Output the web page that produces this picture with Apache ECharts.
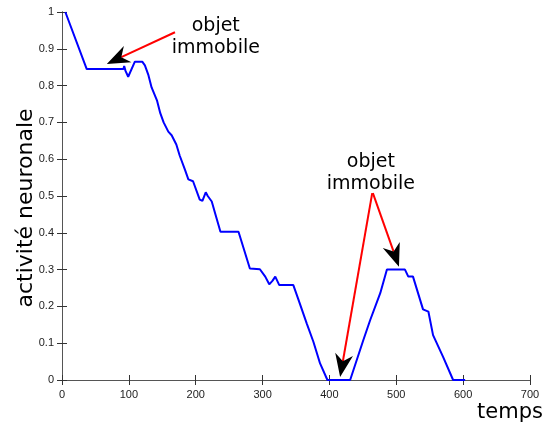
<!DOCTYPE html>
<html>
<head>
<meta charset="utf-8">
<script src="https://cdn.jsdelivr.net/npm/echarts@6/dist/echarts.min.js"></script>
<style>
  html, body { margin: 0; padding: 0; background: #fff; }
  #chart { width: 545px; height: 425px; }
</style>
</head>
<body>
<div id="chart"></div>
<script>
// valeurs
const temps = [5, 37, 92, 93, 95, 99, 109, 120, 124, 129, 134, 142, 147, 152, 159, 164, 171, 176,
  184, 189, 196, 206, 210, 215, 218, 224, 229, 237, 264, 281, 296, 304, 310, 315, 319, 325, 346,
  353, 355, 366, 376, 386, 397, 431, 451, 461, 476, 486, 513, 518, 525, 540, 548, 555, 570,
  585, 603];
const activite = [1, 0.845, 0.845, 0.853, 0.84, 0.824, 0.865, 0.865, 0.855, 0.83, 0.795, 0.76,
  0.725, 0.7, 0.675, 0.665, 0.64, 0.61, 0.571, 0.545, 0.54, 0.49, 0.487, 0.51, 0.5, 0.485, 0.453,
  0.403, 0.403, 0.303, 0.301, 0.281, 0.26, 0.27, 0.281, 0.258, 0.258, 0.222, 0.217, 0.154, 0.104,
  0.045, 0, 0, 0.11, 0.163, 0.236, 0.3, 0.3, 0.281, 0.281, 0.192, 0.186, 0.122, 0.063,
  0, 0];

const xTicks = [0, 100, 200, 300, 400, 500, 600, 700];
const yTicks = [0, 0.1, 0.2, 0.3, 0.4, 0.5, 0.6, 0.7, 0.8, 0.9, 1];

// annotations (coordonnées dans l'espace des données)
const flecheDebut = [[169, 0.945], [464, 0.508], [465, 0.508]];
const flecheFin = [[67, 0.859], [416, 0.008], [504, 0.308]];
const etiquettes = [[230, 0.932], [462, 0.563]];
const etiquetteTexte = 'objet\nimmobile';

const chart = echarts.init(document.getElementById('chart'));

const axisLine = { show: true, lineStyle: { color: '#555', width: 1 } };
const axisTick = { show: true, inside: true, length: 5, lineStyle: { color: '#333' } };
const tickFont = { color: '#222', fontSize: 11, fontFamily: 'Liberation Sans' };

chart.setOption({
  animation: false,
  grid: { left: 62, right: 15, top: 12, bottom: 45 },
  xAxis: [
    {
      type: 'value', min: xTicks[0], max: xTicks[xTicks.length - 1], interval: 100,
      axisLine, axisTick, splitLine: { show: false },
      axisLabel: Object.assign({ margin: 9 }, tickFont)
    },
    {
      type: 'value', position: 'top', min: xTicks[0], max: xTicks[xTicks.length - 1], interval: 100,
      axisLine, axisTick, splitLine: { show: false }, axisLabel: { show: false }
    }
  ],
  yAxis: [
    {
      type: 'value', min: yTicks[0], max: yTicks[yTicks.length - 1], interval: 0.1,
      axisLine, axisTick, splitLine: { show: false },
      axisLabel: Object.assign({ margin: 8 }, tickFont)
    },
    {
      type: 'value', position: 'right', min: 0, max: 1, interval: 0.1,
      axisLine, axisTick, splitLine: { show: false }, axisLabel: { show: false }
    }
  ],
  series: [{
    type: 'line',
    data: temps.map((t, i) => [t, activite[i]]),
    showSymbol: false,
    lineStyle: { color: '#0000ff', width: 2 },
    itemStyle: { color: '#0000ff' }
  }]
});

function dessinerAnnotations() {
  const elements = [];
  const tete = 23, demiLargeur = 9, creux = 16;

  for (let i = 0; i < flecheDebut.length; i++) {
    const a = chart.convertToPixel({ gridIndex: 0 }, flecheDebut[i]);
    const b = chart.convertToPixel({ gridIndex: 0 }, flecheFin[i]);
    const dx = a[0] - b[0], dy = a[1] - b[1];
    const len = Math.sqrt(dx * dx + dy * dy);
    const ux = dx / len, uy = dy / len;
    const nx = -uy, ny = ux;
    const base = [b[0] + ux * creux, b[1] + uy * creux];

    elements.push({
      type: 'line',
      shape: { x1: a[0], y1: a[1], x2: base[0], y2: base[1] },
      style: { stroke: '#ff0000', lineWidth: 2 }
    });
    elements.push({
      type: 'polygon',
      shape: {
        points: [
          b,
          [b[0] + ux * tete + nx * demiLargeur, b[1] + uy * tete + ny * demiLargeur],
          base,
          [b[0] + ux * tete - nx * demiLargeur, b[1] + uy * tete - ny * demiLargeur]
        ]
      },
      style: { fill: '#000' }
    });
  }

  etiquettes.forEach(p => {
    const c = chart.convertToPixel({ gridIndex: 0 }, p);
    elements.push({
      type: 'text',
      x: c[0], y: c[1],
      style: {
        text: etiquetteTexte, fill: '#000',
        font: '19px "DejaVu Sans"', lineHeight: 22,
        textAlign: 'center', textVerticalAlign: 'middle'
      }
    });
  });

  elements.push({
    type: 'text', x: 26, y: 208, rotation: Math.PI / 2,
    style: {
      text: 'activité neuronale', fill: '#000', font: '22px "DejaVu Sans"',
      textAlign: 'center', textVerticalAlign: 'middle'
    }
  });
  elements.push({
    type: 'text', x: 543, y: 413,
    style: {
      text: 'temps', fill: '#000', font: '21px "DejaVu Sans"',
      textAlign: 'right', textVerticalAlign: 'middle'
    }
  });

  chart.setOption({ graphic: { elements } });
}

dessinerAnnotations();
</script>
</body>
</html>
